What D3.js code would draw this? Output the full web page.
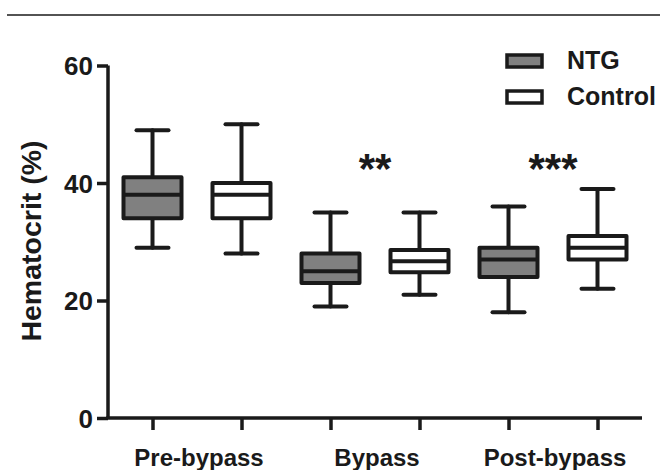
<!DOCTYPE html>
<html>
<head>
<meta charset="utf-8">
<title>Hematocrit</title>
<script src="https://cdn.jsdelivr.net/npm/d3@7"></script>
<style>
  body { margin: 0; background: #fff; }
  text { font-family: "Liberation Sans", Arial, sans-serif; font-weight: bold; fill: #1a1a1a; }
</style>
</head>
<body>
<script>
// data
var groups = ['Pre-bypass', 'Bypass', 'Post-bypass'];
var series = ['NTG', 'Control'];
var seriesFill = ['#808080', '#ffffff'];
// per series, one value per group
var whiskerLow  = [[29, 19, 18], [28, 21, 22]];
var boxLow      = [[34, 23, 24], [34, 24.8, 27]];
var medians     = [[38, 25, 27], [38, 26.7, 29]];
var boxHigh     = [[41, 28, 29], [40, 28.6, 31]];
var whiskerHigh = [[49, 35, 36], [50, 35, 39]];
var yTicks = [0, 20, 40, 60];
var marks = ['', '**', '***'];

var width = 660, height = 470;
var ink = '#1a1a1a';

var svg = d3.select('body').append('svg')
    .attr('width', width)
    .attr('height', height);

// thin rule across the top
svg.append('line')
    .attr('x1', 7).attr('x2', 660)
    .attr('y1', 15).attr('y2', 15)
    .attr('stroke', ink).attr('stroke-width', 1.3);

var x = d3.scaleBand().domain(groups).range([108, 642]);
var xs = d3.scaleBand().domain(series).range([0, x.bandwidth()]);
var y = d3.scaleLinear().domain([0, 60]).range([418, 65.5]);

var boxW = 58, capW = 32;

/* boxes */
var rows = [];
series.forEach(function(s, si) {
    groups.forEach(function(g, gi) {
        rows.push({
            g: g, s: s, si: si,
            lo: whiskerLow[si][gi], q1: boxLow[si][gi], md: medians[si][gi],
            q3: boxHigh[si][gi], hi: whiskerHigh[si][gi]
        });
    });
});

var box = svg.selectAll('g.box')
    .data(rows)
    .enter().append('g')
    .attr('class', 'box')
    .attr('transform', function(d) {
        return 'translate(' + (x(d.g) + xs(d.s) + xs.bandwidth() / 2) + ',0)';
    })
    .attr('stroke', ink)
    .attr('stroke-width', 4)
    .attr('stroke-linecap', 'round');

// whiskers
box.append('line')
    .attr('x1', 0).attr('x2', 0)
    .attr('y1', function(d) { return y(d.hi); })
    .attr('y2', function(d) { return y(d.q3); });
box.append('line')
    .attr('x1', 0).attr('x2', 0)
    .attr('y1', function(d) { return y(d.q1); })
    .attr('y2', function(d) { return y(d.lo); });
box.append('line')
    .attr('x1', -capW / 2).attr('x2', capW / 2)
    .attr('y1', function(d) { return y(d.hi); })
    .attr('y2', function(d) { return y(d.hi); });
box.append('line')
    .attr('x1', -capW / 2).attr('x2', capW / 2)
    .attr('y1', function(d) { return y(d.lo); })
    .attr('y2', function(d) { return y(d.lo); });
// box body
box.append('rect')
    .attr('x', -boxW / 2)
    .attr('width', boxW)
    .attr('y', function(d) { return y(d.q3); })
    .attr('height', function(d) { return y(d.q1) - y(d.q3); })
    .attr('fill', function(d) { return seriesFill[d.si]; })
    .attr('stroke-linejoin', 'round');
// median
box.append('line')
    .attr('x1', -boxW / 2).attr('x2', boxW / 2)
    .attr('y1', function(d) { return y(d.md); })
    .attr('y2', function(d) { return y(d.md); })
    .attr('stroke-linecap', 'butt');

/* axes */
var yAxis = svg.append('g')
    .attr('transform', 'translate(108,0)')
    .call(d3.axisLeft(y).tickValues(yTicks).tickSize(11).tickPadding(4).tickSizeOuter(0));
yAxis.selectAll('text').attr('font-size', 26).attr('font-family', null).attr('fill', null).attr('dy', '0.36em');

var xTickPos = [];
groups.forEach(function(g) {
    series.forEach(function(s) { xTickPos.push(x(g) + xs(s) + xs.bandwidth() / 2); });
});
var xLin = d3.scaleLinear().domain([108, 642]).range([108, 642]);
var xAxis = svg.append('g')
    .attr('transform', 'translate(0,418)')
    .call(d3.axisBottom(xLin).tickValues(xTickPos).tickSize(12).tickFormat('').tickSizeOuter(0));

svg.selectAll('.domain, .tick line')
    .attr('stroke', ink)
    .attr('stroke-width', 3.5);
yAxis.select('.domain').attr('d', 'M0,' + y(0) + 'V' + y(60));
xAxis.select('.domain').attr('d', 'M106.25,0H642');
yAxis.selectAll('.tick line').attr('x1', 0);

// group labels
svg.selectAll('text.glabel')
    .data(groups)
    .enter().append('text')
    .attr('class', 'glabel')
    .attr('x', function(g) { return x(g) + x.bandwidth() / 2 + 2; })
    .attr('y', 466)
    .attr('text-anchor', 'middle')
    .attr('font-size', 24)
    .text(function(g) { return g; });

// significance marks
svg.selectAll('text.sig')
    .data(groups)
    .enter().append('text')
    .attr('class', 'sig')
    .attr('x', function(g) { return x(g) + x.bandwidth() / 2; })
    .attr('y', 183)
    .attr('text-anchor', 'middle')
    .attr('font-size', 42)
    .text(function(g, i) { return marks[i]; });

// y title
svg.append('text')
    .attr('transform', 'translate(41,241) rotate(-90)')
    .attr('text-anchor', 'middle')
    .attr('font-size', 28.5)
    .text('Hematocrit (%)');

// legend
var leg = svg.selectAll('g.leg')
    .data(series)
    .enter().append('g')
    .attr('class', 'leg')
    .attr('transform', function(d, i) { return 'translate(507,' + (61 + i * 36) + ')'; });
leg.append('rect')
    .attr('x', 0).attr('y', -6)
    .attr('width', 35).attr('height', 12)
    .attr('fill', function(d, i) { return seriesFill[i]; })
    .attr('stroke', ink).attr('stroke-width', 3.5);
leg.append('text')
    .attr('x', 60).attr('y', 7.5)
    .attr('font-size', 25)
    .text(function(d) { return d; });
</script>
</body>
</html>
